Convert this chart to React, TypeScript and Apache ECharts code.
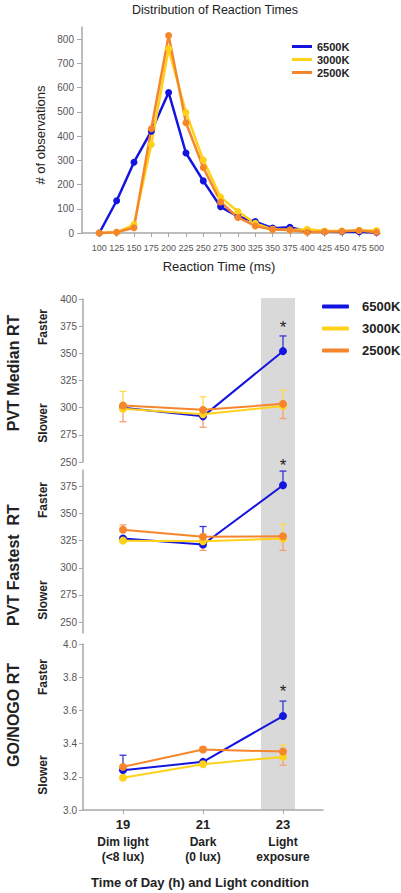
import React, { useEffect, useRef } from 'react';
import * as echarts from 'echarts';

const FONT = '"Liberation Sans", Arial, sans-serif';

// ---------- Top chart data ----------
const rtBins = [100, 125, 150, 175, 200, 225, 250, 275, 300, 325, 350, 375, 400, 425, 450, 475, 500];
const obs6500 = [0, 133, 292, 420, 580, 330, 215, 108, 68, 47, 20, 24, 6, 5, 5, 5, 2];
const obs3000 = [0, 3, 35, 365, 760, 497, 301, 148, 89, 40, 15, 12, 15, 8, 8, 10, 10];
const obs2500 = [0, 3, 22, 430, 815, 455, 270, 128, 64, 29, 14, 12, 3, 5, 7, 10, 3];
const obsTicks = [0, 100, 200, 300, 400, 500, 600, 700, 800];

// ---------- Bottom panels data ----------
const seriesNames = ['6500K', '3000K', '2500K'];
const hours = ['19', '21', '23'];
const conditionLine1 = ['Dim light', 'Dark', 'Light'];
const conditionLine2 = ['(<8 lux)', '(0 lux)', 'exposure'];
const sigMarks = ['', '', '*'];

const median6500 = [300, 292, 352];
const median3000 = [299, 294, 301.5];
const median2500 = [302, 298, 303.5];
const medianErr6500 = [null, null, 366];
const medianErr3000 = [315, 310, 316];
const medianErr2500 = [287, 282, 290];
const medianTicks = [250, 275, 300, 325, 350, 375, 400];

const fastest6500 = [327, 321.5, 376];
const fastest3000 = [325, 324.5, 327];
const fastest2500 = [335, 328.5, 329];
const fastestErr6500 = [null, 338, 389];
const fastestErr3000 = [null, null, 340];
const fastestErr2500 = [339.5, 316, 316];
const fastestTicks = [250, 275, 300, 325, 350, 375];

const gonogo6500 = [3.24, 3.29, 3.566];
const gonogo3000 = [3.194, 3.276, 3.32];
const gonogo2500 = [3.26, 3.364, 3.352];
const gonogoErr6500 = [3.33, null, 3.656];
const gonogoErr3000 = [null, null, 3.39];
const gonogoErr2500 = [null, 3.38, 3.27];
const gonogoTicks = [3.0, 3.2, 3.4, 3.6, 3.8, 4.0];

const COLORS = ['#1414E0', '#FFD21A', '#F6862C'];
const ERR_COLORS = ['#3535D8', '#FFD94A', '#F5A070'];

const AXIS_COLOR = '#A8A8A8';
const LABEL_COLOR = '#555';

function errorSeries(color: string, means: number[], ends: (number | null)[], xi: number, yi: number) {
  const data: number[][] = [];
  means.forEach((m, i) => {
    const e = ends[i];
    if (e !== null && e !== undefined) data.push([i, m, e]);
  });
  return {
    type: 'custom',
    name: 'err',
    xAxisIndex: xi,
    yAxisIndex: yi,
    z: 1,
    silent: true,
    data,
    encode: { x: 0, y: [1, 2] },
    renderItem: (params: any, api: any) => {
      const p1 = api.coord([api.value(0), api.value(1)]);
      const p2 = api.coord([api.value(0), api.value(2)]);
      const hw = 3.5;
      return {
        type: 'group',
        children: [
          { type: 'line', shape: { x1: p1[0], y1: p1[1], x2: p2[0], y2: p2[1] }, style: { stroke: color, lineWidth: 1.3 } },
          { type: 'line', shape: { x1: p2[0] - hw, y1: p2[1], x2: p2[0] + hw, y2: p2[1] }, style: { stroke: color, lineWidth: 1.3 } },
        ],
      };
    },
  };
}

function panelLine(name: string, color: string, values: number[], xi: number, yi: number, sigDist: number | null) {
  return {
    type: 'line',
    name,
    xAxisIndex: xi,
    yAxisIndex: yi,
    z: 3,
    symbol: 'circle',
    symbolSize: 8,
    lineStyle: { color, width: 2 },
    itemStyle: { color },
    data: values.map((v, i) =>
      sigDist !== null && sigMarks[i]
        ? {
            value: v,
            label: {
              show: true,
              formatter: sigMarks[i],
              position: 'top',
              distance: sigDist,
              fontSize: 17,
              color: '#222',
              fontFamily: FONT,
            },
          }
        : v
    ),
  };
}

function topLine(name: string, color: string, values: number[]) {
  return {
    type: 'line',
    name,
    xAxisIndex: 0,
    yAxisIndex: 0,
    z: 3,
    symbol: 'circle',
    symbolSize: 7,
    lineStyle: { color, width: 2.5 },
    itemStyle: { color },
    data: rtBins.map((b, i) => [b, values[i]]),
  };
}

const hiddenCat = (gi: number) => ({
  type: 'category',
  gridIndex: gi,
  data: hours,
  boundaryGap: true,
  axisLine: { show: false },
  axisTick: { show: false },
  axisLabel: { show: false },
  splitLine: { show: false },
});

const panelY = (gi: number, min: number, max: number, ticks: number[], fmt?: (v: number) => string) => ({
  type: 'value',
  gridIndex: gi,
  min,
  max,
  splitLine: { show: false },
  axisLine: { show: true, lineStyle: { color: AXIS_COLOR, width: 1.5 } },
  axisTick: { show: true, length: 4, lineStyle: { color: AXIS_COLOR }, customValues: ticks },
  axisLabel: {
    color: LABEL_COLOR,
    fontSize: 10,
    fontFamily: FONT,
    margin: 6,
    customValues: ticks,
    formatter: fmt ? fmt : (v: number) => String(v),
  },
});

function buildOption() {
  return {
    animation: false,
    backgroundColor: '#fff',
    textStyle: { fontFamily: FONT },
    grid: [
      { left: 82, top: 27, width: 298, height: 206 },
      { left: 83, top: 299, width: 240, height: 163 },
      { left: 83, top: 470, width: 240, height: 163 },
      { left: 83, top: 644, width: 240, height: 166 },
    ],
    legend: [
      {
        data: seriesNames,
        orient: 'vertical',
        left: 292,
        top: 41,
        padding: 0,
        icon: 'rect',
        itemWidth: 20,
        itemHeight: 3,
        itemGap: 2,
        selectedMode: false,
        textStyle: { fontSize: 11, fontWeight: 'bold', color: '#222', fontFamily: FONT },
      },
      {
        data: seriesNames,
        orient: 'vertical',
        left: 322,
        top: 300,
        padding: 0,
        icon: 'roundRect',
        itemWidth: 27,
        itemHeight: 4,
        itemGap: 9,
        selectedMode: false,
        textStyle: { fontSize: 13, fontWeight: 'bold', color: '#222', fontFamily: FONT, padding: [0, 0, 0, 8] },
      },
    ],
    xAxis: [
      {
        type: 'value',
        gridIndex: 0,
        min: 75,
        max: 505,
        interval: 25,
        splitLine: { show: false },
        axisLine: { show: true, onZero: false, lineStyle: { color: AXIS_COLOR, width: 1.5 } },
        axisTick: { show: true, length: 4, lineStyle: { color: AXIS_COLOR }, customValues: rtBins },
        axisLabel: { color: LABEL_COLOR, fontSize: 9, fontFamily: FONT, margin: 10, customValues: rtBins },
      },
      hiddenCat(1),
      hiddenCat(2),
      {
        type: 'category',
        gridIndex: 3,
        data: hours,
        boundaryGap: true,
        axisLine: { show: true, lineStyle: { color: AXIS_COLOR, width: 1.5 } },
        axisTick: { show: true, alignWithLabel: true, length: 4, lineStyle: { color: AXIS_COLOR } },
        axisLabel: {
          margin: 4,
          interval: 0,
          formatter: (v: string, i: number) => `{h|${v}}\n{c|${conditionLine1[i]}}\n{c|${conditionLine2[i]}}`,
          rich: {
            h: { fontSize: 13, fontWeight: 'bold', color: '#222', lineHeight: 20, fontFamily: FONT },
            c: { fontSize: 12, fontWeight: 'bold', color: '#222', lineHeight: 15, fontFamily: FONT },
          },
        },
        splitLine: { show: false },
      },
    ],
    yAxis: [
      {
        type: 'value',
        gridIndex: 0,
        min: 0,
        max: 850,
        interval: 100,
        splitLine: { show: false },
        axisLine: { show: true, lineStyle: { color: AXIS_COLOR, width: 1.5 } },
        axisTick: { show: true, length: 5, lineStyle: { color: AXIS_COLOR }, customValues: obsTicks },
        axisLabel: { color: LABEL_COLOR, fontSize: 10, fontFamily: FONT, margin: 8, customValues: obsTicks },
      },
      panelY(1, 250, 400, medianTicks),
      panelY(2, 240, 390, fastestTicks),
      panelY(3, 3.0, 4.0, gonogoTicks, (v: number) => v.toFixed(1)),
    ],
    series: [
      topLine(seriesNames[0], COLORS[0], obs6500),
      topLine(seriesNames[1], COLORS[1], obs3000),
      topLine(seriesNames[2], COLORS[2], obs2500),

      errorSeries(ERR_COLORS[0], median6500, medianErr6500, 1, 1),
      errorSeries(ERR_COLORS[1], median3000, medianErr3000, 1, 1),
      errorSeries(ERR_COLORS[2], median2500, medianErr2500, 1, 1),
      panelLine(seriesNames[0], COLORS[0], median6500, 1, 1, 11),
      panelLine(seriesNames[1], COLORS[1], median3000, 1, 1, null),
      panelLine(seriesNames[2], COLORS[2], median2500, 1, 1, null),

      errorSeries(ERR_COLORS[0], fastest6500, fastestErr6500, 2, 2),
      errorSeries(ERR_COLORS[1], fastest3000, fastestErr3000, 2, 2),
      errorSeries(ERR_COLORS[2], fastest2500, fastestErr2500, 2, 2),
      panelLine(seriesNames[0], COLORS[0], fastest6500, 2, 2, 7),
      panelLine(seriesNames[1], COLORS[1], fastest3000, 2, 2, null),
      panelLine(seriesNames[2], COLORS[2], fastest2500, 2, 2, null),

      errorSeries(ERR_COLORS[0], gonogo6500, gonogoErr6500, 3, 3),
      errorSeries(ERR_COLORS[1], gonogo3000, gonogoErr3000, 3, 3),
      errorSeries(ERR_COLORS[2], gonogo2500, gonogoErr2500, 3, 3),
      panelLine(seriesNames[0], COLORS[0], gonogo6500, 3, 3, 12),
      panelLine(seriesNames[1], COLORS[1], gonogo3000, 3, 3, null),
      panelLine(seriesNames[2], COLORS[2], gonogo2500, 3, 3, null),
    ],
  };
}

function txt(text: string, x: number, y: number, size: number, bold: boolean, rotate: boolean, color = '#222') {
  return {
    type: 'text',
    x,
    y,
    rotation: rotate ? Math.PI / 2 : 0,
    silent: true,
    z: 10,
    style: {
      text,
      fontSize: size,
      fontWeight: bold ? 'bold' : 'normal',
      fontFamily: FONT,
      fill: color,
      align: 'center',
      verticalAlign: 'middle',
    },
  };
}

export default function App() {
  const ref = useRef<HTMLDivElement>(null);
  useEffect(() => {
    if (!ref.current) return;
    const chart = echarts.init(ref.current, null, { renderer: 'svg' });
    chart.setOption(buildOption());

    const cx = chart.convertToPixel({ xAxisIndex: 3 } as any, hours[2]) as unknown as number;
    const yTop = chart.convertToPixel({ yAxisIndex: 1 } as any, medianTicks[medianTicks.length - 1]) as unknown as number;
    const yBot = chart.convertToPixel({ yAxisIndex: 3 } as any, gonogoTicks[0]) as unknown as number;

    chart.setOption({
      graphic: {
        elements: [
          {
            type: 'rect',
            z: 0,
            silent: true,
            shape: { x: cx - 22, y: yTop - 1, width: 34, height: yBot - yTop + 1 },
            style: { fill: '#D9D9D9' },
          },
          txt('Distribution of Reaction Times', 215, 10, 12.5, false, false),
          txt('# of observations', 40, 135, 13, false, true),
          txt('Reaction Time (ms)', 219, 266, 13, false, false),
          txt('PVT Median RT', 13, 373, 16, true, true),
          txt('Faster', 43, 327, 12, true, true),
          txt('Slower', 43, 423, 12, true, true),
          txt('PVT Fastest  RT', 13, 565, 16, true, true),
          txt('Faster', 43, 500, 12, true, true),
          txt('Slower', 43, 600, 12, true, true),
          txt('GO/NOGO RT', 13, 715, 16, true, true),
          txt('Faster', 43, 677, 12, true, true),
          txt('Slower', 43, 775, 12, true, true),
          txt('Time of Day (h) and Light condition', 200, 882, 13, true, false),
        ],
      },
    });
    return () => chart.dispose();
  }, []);
  return <div ref={ref} style={{ position: 'fixed', left: 0, top: 0, width: 401, height: 893 }} />;
}
